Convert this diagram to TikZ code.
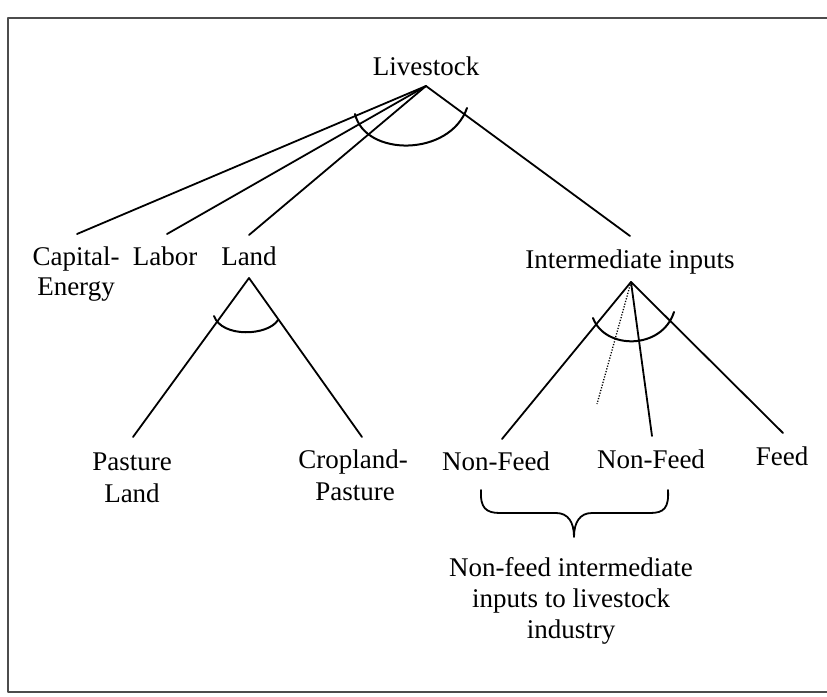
\documentclass[tikz,border=0pt]{standalone}
\usepackage{fontspec}
\setmainfont{Liberation Serif}
\begin{document}
\begin{tikzpicture}[x=1pt,y=-1pt, line cap=round, line join=round,
  lbl/.style={anchor=base, inner sep=0pt, font=\fontsize{27}{31}\selectfont},
  edge/.style={line width=1.8pt},
  arcmark/.style={line width=2pt},
  dotline/.style={line width=1.3pt, dash pattern=on 1.2pt off 1.6pt, line cap=butt},
  frameline/.style={line width=1.5pt, black!70}]
\useasboundingbox (0,0) rectangle (827,696);
% frame
\coordinate (ftr) at (827,18);
\coordinate (ftl) at (8,18);
\coordinate (fbl) at (8,692);
\coordinate (fbr) at (827,692);
\draw[frameline] (ftr) -- (ftl) -- (fbl) -- (fbr);

% labels
\node[lbl] (live) at (426,75) {Livestock};
\node[lbl] (cap1) at (76,265) {Capital-};
\node[lbl] (cap2) at (76,295) {Energy};
\node[lbl] (labor) at (165,265) {Labor};
\node[lbl] (land) at (249,265) {Land};
\node[lbl] (inter) at (630,268) {Intermediate inputs};
\node[lbl] (past1) at (132,470) {Pasture};
\node[lbl] (past2) at (132,502) {Land};
\node[lbl] (crop1) at (353,468) {Cropland-};
\node[lbl] (crop2) at (355,500) {Pasture};
\node[lbl] (nf1) at (496,470) {Non-Feed};
\node[lbl] (nf2) at (651,468) {Non-Feed};
\node[lbl] (feed) at (782,465) {Feed};
\node[lbl] (txt1) at (571,576) {Non-feed intermediate};
\node[lbl] (txt2) at (571,607) {inputs to livestock};
\node[lbl] (txt3) at (571,638) {industry};

% apexes and line ends
\coordinate (aL) at (426,86);
\coordinate (eCap) at (77,234);
\coordinate (eLab) at (167,234);
\coordinate (eLand) at (249,235);
\coordinate (eInt) at (630,236);
\coordinate (aLand) at (249,278);
\coordinate (ePast) at (133,437);
\coordinate (eCrop) at (362,437);
\coordinate (aInt) at (631,282);
\coordinate (eNf1) at (502,439);
\coordinate (eDot) at (597,404);
\coordinate (eNf2) at (652,436);
\coordinate (eFeed) at (783,433);

\draw[edge] (aL) -- (eCap);
\draw[edge] (aL) -- (eLab);
\draw[edge] (aL) -- (eLand);
\draw[edge] (aL) -- (eInt);
\draw[edge] (aLand) -- (ePast);
\draw[edge] (aLand) -- (eCrop);
\draw[edge] (aInt) -- (eNf1);
\draw[dotline] (aInt) -- (eDot);
\draw[edge] (aInt) -- (eNf2);
\draw[edge] (aInt) -- (eFeed);

% arcs
\draw[arcmark] (355,114) .. controls (365,157) and (450,157) .. (467,108);
\draw[arcmark] (214,316) .. controls (222,338) and (268,336) .. (278,320);
\draw[arcmark] (593,318) .. controls (605,350) and (662,350) .. (674,312);

% brace
\coordinate (bl) at (481,490);
\coordinate (bt) at (574,537);
\coordinate (br) at (668,490);
\draw[edge] (bl) .. controls (480,508) and (486,513) .. (500,513) -- (556,513)
  .. controls (568,513) and (574,522) .. (bt)
  .. controls (574,522) and (580,513) .. (592,513) -- (650,513)
  .. controls (664,513) and (669,508) .. (br);
\end{tikzpicture}
\end{document}
